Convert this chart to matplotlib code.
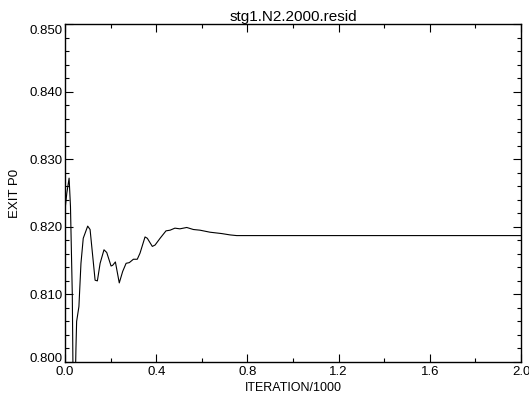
import matplotlib
matplotlib.use("Agg")
import matplotlib.pyplot as plt
import matplotlib.transforms as mtransforms
from matplotlib.ticker import MultipleLocator, FormatStrFormatter

title = "stg1.N2.2000.resid"
xlabel = "ITERATION/1000"
ylabel = "EXIT P0"
y_ticks = [0.800, 0.810, 0.820, 0.830, 0.840, 0.850]

iteration = [0.000, 0.008, 0.018, 0.024, 0.032, 0.036, 0.044, 0.048, 0.051, 0.061,
             0.070, 0.080, 0.0995, 0.110, 0.132, 0.142, 0.154, 0.171, 0.183, 0.202,
             0.209, 0.221, 0.238, 0.253, 0.268, 0.282, 0.300, 0.317, 0.329, 0.351,
             0.361, 0.383, 0.395, 0.417, 0.443, 0.461, 0.482, 0.504, 0.534, 0.563,
             0.592, 0.636, 0.687, 0.724, 0.753, 0.797, 0.855, 1.000, 1.100, 1.200,
             1.400, 1.600, 1.800, 2.000]
exit_p0 = [0.8225, 0.8250, 0.8272, 0.8230, 0.8100, 0.7950, 0.7950, 0.8020, 0.8060, 0.8082,
           0.8146, 0.8183, 0.8201, 0.8196, 0.8121, 0.8120, 0.8146, 0.8166, 0.8162, 0.8142,
           0.8143, 0.8148, 0.8117, 0.8134, 0.8146, 0.8147, 0.8152, 0.8152, 0.8161, 0.8185,
           0.8183, 0.8171, 0.8173, 0.8183, 0.8194, 0.8195, 0.8198, 0.8197, 0.8199, 0.8196,
           0.8195, 0.8192, 0.8190, 0.8188, 0.8187, 0.8187, 0.8187, 0.8187, 0.8187, 0.8187,
           0.8187, 0.8187, 0.8187, 0.8187]

plt.rcParams['font.family'] = ['Liberation Sans', 'DejaVu Sans']

fig = plt.figure(figsize=(5.29, 3.98), dpi=100)
ax = fig.add_axes([65/529, 1 - 362/398, (521 - 65)/529, (362 - 24)/398])
ax.plot(iteration, exit_p0, color='black', linewidth=0.8)
ax.xaxis.set_major_locator(MultipleLocator(0.4))
ax.xaxis.set_minor_locator(MultipleLocator(0.2))
ax.set_yticks(y_ticks)
ax.yaxis.set_minor_locator(MultipleLocator(0.002))
ax.xaxis.set_major_formatter(FormatStrFormatter('%.1f'))
ax.yaxis.set_major_formatter(FormatStrFormatter('%.3f'))
ax.set_xlim(0.0, 2.0)
ax.set_ylim(0.800, 0.850)
ax.tick_params(which='both', direction='in', top=True, right=True, labelsize=9.5, width=0.8)
ax.tick_params(axis='x', pad=3)
ax.tick_params(axis='y', pad=1.5)
ax.tick_params(which='major', length=5.5)
ax.tick_params(which='minor', length=3)
ylabels = ax.get_yticklabels()
ylabels[0].set_transform(ylabels[0].get_transform()
                         + mtransforms.ScaledTranslation(0, 3/72, fig.dpi_scale_trans))
ylabels[-1].set_transform(ylabels[-1].get_transform()
                          + mtransforms.ScaledTranslation(0, -4/72, fig.dpi_scale_trans))
for s in ax.spines.values():
    s.set_linewidth(1.0)
ax.set_title(title, fontsize=11, pad=1.5)
ax.set_xlabel(xlabel, fontsize=9, labelpad=3)
ax.set_ylabel(ylabel, fontsize=9.5, labelpad=6)
fig.savefig("out.png", dpi=100)
